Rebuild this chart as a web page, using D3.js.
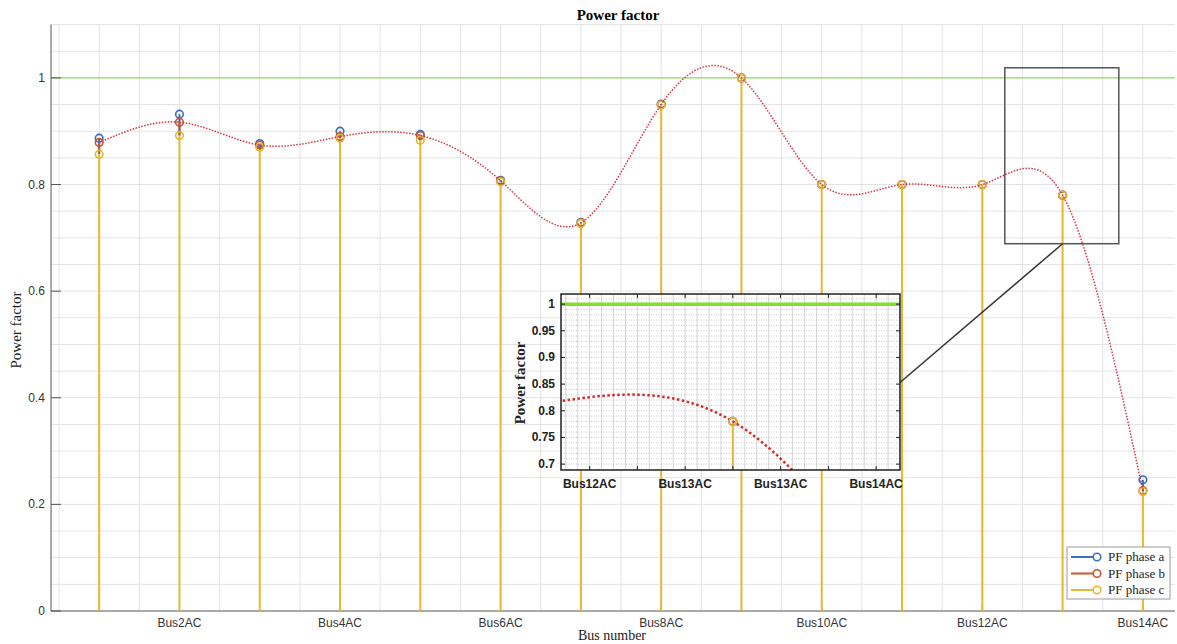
<!DOCTYPE html>
<html>
<head>
<meta charset="utf-8">
<script src="https://cdn.jsdelivr.net/npm/d3@7"></script>
<style>
  body { margin: 0; background: #fff; }
  svg { display: block; }
</style>
</head>
<body>
<svg id="chart"></svg>
<script>
const buses = [1, 2, 3, 4, 5, 6, 7, 8, 9, 10, 11, 12, 13, 14];
const busLabels = buses.map(d => "Bus" + d + "AC");
const phaseA = [0.887, 0.932, 0.877, 0.900, 0.894, 0.808, 0.729, 0.951, 1.000, 0.800, 0.800, 0.800, 0.780, 0.246];
const phaseB = [0.879, 0.917, 0.874, 0.890, 0.892, 0.807, 0.728, 0.950, 1.000, 0.800, 0.800, 0.800, 0.780, 0.226];
const phaseC = [0.857, 0.892, 0.870, 0.887, 0.883, 0.805, 0.727, 0.949, 1.000, 0.800, 0.800, 0.800, 0.780, 0.224];
const seriesNames = ["PF phase a", "PF phase b", "PF phase c"];
const yTicks = [0, 0.2, 0.4, 0.6, 0.8, 1];
const xTicks = [2, 4, 6, 8, 10, 12, 14];
// zoom window and inset
const zoomX = [12.28, 13.70];
const zoomY = [0.689, 1.019];
const insetXTicks = [12.4, 12.6, 12.8, 13.0, 13.2, 13.4, 13.6];
const insetXLabels = ["Bus12AC", "Bus13AC", "Bus13AC", "Bus14AC"];
const insetYTicks = [0.7, 0.75, 0.8, 0.85, 0.9, 0.95, 1];

const width = 1177, height = 644;
const colors = ["#3a6fc0", "#c9552b", "#e8b632"];
const series = [phaseA, phaseB, phaseC];

const svg = d3.select("#chart").attr("width", width).attr("height", height);

const x = d3.scaleLinear().domain([0.4, 14.4]).range([51, 1175]);
const y = d3.scaleLinear().domain([0, 1.1]).range([611, 24.6]);

// grid
const grid = svg.append("g");
grid.selectAll(".vg").data(d3.range(1, 29).map(d => d * 0.5))
  .enter().append("line")
  .attr("x1", d => x(d)).attr("x2", d => x(d))
  .attr("y1", y(1.1)).attr("y2", y(0))
  .attr("stroke", "#e3e3e3").attr("stroke-width", 1);
grid.selectAll(".hg").data(d3.range(1, 23).map(d => d * 0.05))
  .enter().append("line")
  .attr("x1", x(0.4)).attr("x2", x(14.4))
  .attr("y1", d => y(d)).attr("y2", d => y(d))
  .attr("stroke", "#e3e3e3").attr("stroke-width", 1);

// reference line at 1
svg.append("line")
  .attr("x1", x(0.4)).attr("x2", x(14.4))
  .attr("y1", y(1)).attr("y2", y(1))
  .attr("stroke", "#93e065").attr("stroke-width", 1.2);

// axes lines
svg.append("line").attr("x1", x(0.4)).attr("x2", x(0.4)).attr("y1", y(1.1)).attr("y2", y(0))
  .attr("stroke", "#555").attr("stroke-width", 1);
svg.append("line").attr("x1", x(0.4)).attr("x2", x(14.4)).attr("y1", y(0)).attr("y2", y(0))
  .attr("stroke", "#555").attr("stroke-width", 1);

// y ticks
svg.selectAll(".yt").data(yTicks).enter().append("line")
  .attr("x1", x(0.4)).attr("x2", x(0.4) + 10)
  .attr("y1", d => y(d)).attr("y2", d => y(d))
  .attr("stroke", "#555");
svg.selectAll(".yl").data(yTicks).enter().append("text")
  .attr("x", x(0.4) - 6).attr("y", d => y(d) + 4)
  .attr("text-anchor", "end")
  .attr("font-family", "Liberation Sans, Arial, sans-serif").attr("font-size", 12)
  .attr("fill", "#333")
  .text(d => d);

// x ticks
svg.selectAll(".xt").data(xTicks).enter().append("line")
  .attr("x1", d => x(d)).attr("x2", d => x(d))
  .attr("y1", y(0)).attr("y2", y(0) - 6)
  .attr("stroke", "#555");
svg.selectAll(".xl").data(xTicks).enter().append("text")
  .attr("x", d => x(d)).attr("y", 627)
  .attr("text-anchor", "middle")
  .attr("font-family", "Liberation Sans, Arial, sans-serif").attr("font-size", 12)
  .attr("fill", "#333")
  .text(d => busLabels[d - 1]);

// titles
svg.append("text").attr("x", 618).attr("y", 20).attr("text-anchor", "middle")
  .attr("font-family", "Liberation Serif, Times New Roman, serif").attr("font-size", 15)
  .attr("font-weight", "bold").text("Power factor");
svg.append("text").attr("transform", "translate(21,330) rotate(-90)").attr("text-anchor", "middle")
  .attr("font-family", "Liberation Serif, Times New Roman, serif").attr("font-size", 15)
  .attr("fill", "#222").text("Power factor");
svg.append("text").attr("x", 612).attr("y", 640).attr("text-anchor", "middle")
  .attr("font-family", "Liberation Serif, Times New Roman, serif").attr("font-size", 14)
  .attr("fill", "#222").text("Bus number");

// stems: phase c from the axis, a and b only show above it
series.forEach((vals, si) => {
  svg.selectAll(".stem" + si).data(vals).enter().append("line")
    .attr("x1", (d, i) => x(buses[i])).attr("x2", (d, i) => x(buses[i]))
    .attr("y1", (d, i) => si === 2 ? y(0) : y(phaseC[i]))
    .attr("y2", d => y(d))
    .attr("stroke", colors[si]).attr("stroke-width", 2);
});
series.forEach((vals, si) => {
  svg.selectAll(".mk" + si).data(vals).enter().append("circle")
    .attr("cx", (d, i) => x(buses[i])).attr("cy", d => y(d))
    .attr("r", 3.8).attr("fill", "none")
    .attr("stroke", colors[si]).attr("stroke-width", 1.6);
});

// spline through phase b
const curve = d3.line()
  .x((d, i) => x(buses[i])).y(d => y(d))
  .curve(d3.curveNatural);
svg.append("path").attr("d", curve(phaseB))
  .attr("fill", "none").attr("stroke", "#d8343c").attr("stroke-width", 1.5)
  .attr("stroke-dasharray", "1.5,1.5");

// zoom rectangle
svg.append("rect")
  .attr("x", x(zoomX[0])).attr("y", y(zoomY[1]))
  .attr("width", x(zoomX[1]) - x(zoomX[0]))
  .attr("height", y(zoomY[0]) - y(zoomY[1]))
  .attr("fill", "none").attr("stroke", "#555").attr("stroke-width", 1.5);

// inset
const ix = d3.scaleLinear().domain(zoomX).range([561, 900]);
const iy = d3.scaleLinear().domain(zoomY).range([470, 294]);

svg.append("line")
  .attr("x1", x(13)).attr("y1", y(zoomY[0]))
  .attr("x2", ix(zoomX[1])).attr("y2", iy(0.853))
  .attr("stroke", "#333").attr("stroke-width", 1.5);

const inset = svg.append("g");
inset.append("rect").attr("x", ix(zoomX[0])).attr("y", iy(zoomY[1]))
  .attr("width", ix(zoomX[1]) - ix(zoomX[0])).attr("height", iy(zoomY[0]) - iy(zoomY[1]))
  .attr("fill", "#fff");
svg.append("clipPath").attr("id", "iclip").append("rect")
  .attr("x", ix(zoomX[0])).attr("y", iy(zoomY[1]))
  .attr("width", ix(zoomX[1]) - ix(zoomX[0])).attr("height", iy(zoomY[0]) - iy(zoomY[1]));
const ig = inset.append("g").attr("clip-path", "url(#iclip)");

ig.selectAll(".ivg").data(d3.range(246, 275).map(d => d * 0.05))
  .enter().append("line")
  .attr("x1", d => ix(d)).attr("x2", d => ix(d))
  .attr("y1", iy(zoomY[1])).attr("y2", iy(zoomY[0]))
  .attr("stroke", "#d6d6d6").attr("stroke-width", 1);
ig.selectAll(".ihg").data(d3.range(69, 102).map(d => d * 0.01))
  .enter().append("line")
  .attr("x1", ix(zoomX[0])).attr("x2", ix(zoomX[1]))
  .attr("y1", d => iy(d)).attr("y2", d => iy(d))
  .attr("stroke", "#bdbdbd").attr("stroke-width", 0.8).attr("stroke-dasharray", "1,1.5");

ig.append("line").attr("x1", ix(zoomX[0])).attr("x2", ix(zoomX[1]))
  .attr("y1", iy(1)).attr("y2", iy(1))
  .attr("stroke", "#7fe02e").attr("stroke-width", 3.5);

ig.append("line")
  .attr("x1", ix(buses[12])).attr("x2", ix(buses[12]))
  .attr("y1", iy(zoomY[0])).attr("y2", iy(phaseC[12]))
  .attr("stroke", colors[2]).attr("stroke-width", 1.8);
const icurve = d3.line()
  .x((d, i) => ix(buses[i])).y(d => iy(d))
  .curve(d3.curveNatural);
ig.append("path").attr("d", icurve(phaseB))
  .attr("fill", "none").attr("stroke", "#d42a2a").attr("stroke-width", 2.5)
  .attr("stroke-dasharray", "2.5,2.5");
series.forEach((vals, si) => {
  ig.append("circle").attr("cx", ix(buses[12])).attr("cy", iy(vals[12]))
    .attr("r", 3.8).attr("fill", "none")
    .attr("stroke", colors[si]).attr("stroke-width", 1.6);
});

// inset frame and ticks
inset.append("rect").attr("x", ix(zoomX[0])).attr("y", iy(zoomY[1]))
  .attr("width", ix(zoomX[1]) - ix(zoomX[0])).attr("height", iy(zoomY[0]) - iy(zoomY[1]))
  .attr("fill", "none").attr("stroke", "#222").attr("stroke-width", 1.5);
inset.selectAll(".ixt").data(insetXTicks).enter().append("path")
  .attr("d", d => `M${ix(d)},${iy(zoomY[0])}v-4M${ix(d)},${iy(zoomY[1])}v4`)
  .attr("stroke", "#222");
inset.selectAll(".iyt").data(insetYTicks).enter().append("path")
  .attr("d", d => `M${ix(zoomX[0])},${iy(d)}h4M${ix(zoomX[1])},${iy(d)}h-4`)
  .attr("stroke", "#222");
inset.selectAll(".ixl").data(insetXLabels).enter().append("text")
  .attr("x", (d, i) => ix(insetXTicks[i * 2])).attr("y", 488)
  .attr("text-anchor", "middle")
  .attr("font-family", "Liberation Sans, Arial, sans-serif").attr("font-size", 12)
  .attr("font-weight", "bold").attr("fill", "#222")
  .text(d => d);
inset.selectAll(".iyl").data(insetYTicks).enter().append("text")
  .attr("x", ix(zoomX[0]) - 6).attr("y", d => iy(d) + 4)
  .attr("text-anchor", "end")
  .attr("font-family", "Liberation Sans, Arial, sans-serif").attr("font-size", 12)
  .attr("font-weight", "bold").attr("fill", "#222")
  .text(d => d);
inset.append("text").attr("transform", "translate(525,383) rotate(-90)").attr("text-anchor", "middle")
  .attr("font-family", "Liberation Serif, Times New Roman, serif").attr("font-size", 15)
  .attr("font-weight", "bold").attr("fill", "#222").text("Power factor");

// legend
const lg = svg.append("g").attr("transform", "translate(1067,547)");
lg.append("rect").attr("width", 103).attr("height", 52)
  .attr("fill", "#fff").attr("stroke", "#999").attr("stroke-width", 1);
seriesNames.forEach((name, i) => {
  const yy = 10 + i * 16.5;
  lg.append("line").attr("x1", 4).attr("x2", 30).attr("y1", yy).attr("y2", yy)
    .attr("stroke", colors[i]).attr("stroke-width", 2);
  lg.append("circle").attr("cx", 30).attr("cy", yy).attr("r", 3.8)
    .attr("fill", "#fff").attr("stroke", colors[i]).attr("stroke-width", 1.6);
  lg.append("text").attr("x", 41).attr("y", yy + 4)
    .attr("font-family", "Liberation Serif, Times New Roman, serif").attr("font-size", 13)
    .attr("fill", "#222").text(name);
});
</script>
</body>
</html>
